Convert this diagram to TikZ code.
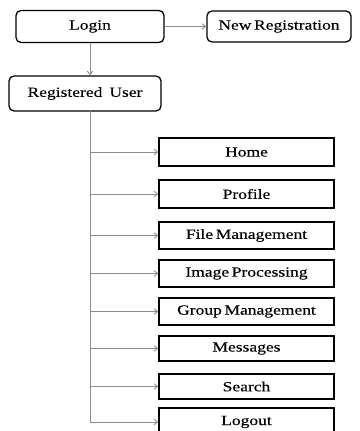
\documentclass[tikz,border=0pt]{standalone}
\usepackage{fontspec}
\setmainfont[FakeStretch=1.25,WordSpace=0.6,FakeBold=0.15]{Liberation Serif}
\usetikzlibrary{arrows.meta}
\begin{document}
\begin{tikzpicture}[x=1pt,y=-1pt,
  rbox/.style={draw=black,line width=1.3pt,rounded corners=5pt,inner sep=0pt,font=\fontsize{14}{16}\selectfont},
  sbox/.style={draw=black,line width=1.4pt,inner sep=0pt,minimum width=175pt,font=\fontsize{14}{16}\selectfont},
  link/.style={draw=black!45,line width=0.9pt},
  arr/.style={link,-{Straight Barb[length=3.5pt,width=5.5pt]}}]
\useasboundingbox (0,0) rectangle (359,431);
\node[rbox,minimum width=148pt,minimum height=32pt] (login) at (90,26.5) {Login};
\node[rbox,minimum width=144pt,minimum height=31pt] (newreg) at (279,26.5) {New Registration};
\node[rbox,minimum width=152pt,minimum height=35pt] (reguser) at (85,93.5) {Registered\hspace{7pt}User};
\node[sbox,minimum height=28pt] (home) at (246.5,152) {Home};
\node[sbox,minimum height=28pt] (profile) at (246.5,194) {Profile};
\node[sbox,minimum height=27pt] (file) at (246.5,235.5) {File Management};
\node[sbox,minimum height=27pt] (image) at (246.5,273.5) {Image Processing};
\node[sbox,minimum height=27pt] (group) at (246.5,311.5) {Group Management};
\node[sbox,minimum height=25pt] (msg) at (246.5,348.5) {Messages};
\node[sbox,minimum height=25pt] (search) at (246.5,386.5) {Search};
\node[sbox,minimum height=28pt] (logout) at (246.5,422) {Logout};
\coordinate (trunk) at (90,111);
\draw[arr] (login.east) -- (newreg.west);
\draw[arr] (login.south) -- (login.south |- reguser.north);
\draw[arr] (trunk) |- (logout.west);
\foreach \n in {home,profile,file,image,group,msg,search}
  \draw[arr] (trunk |- \n.west) -- (\n.west);
\end{tikzpicture}
\end{document}
